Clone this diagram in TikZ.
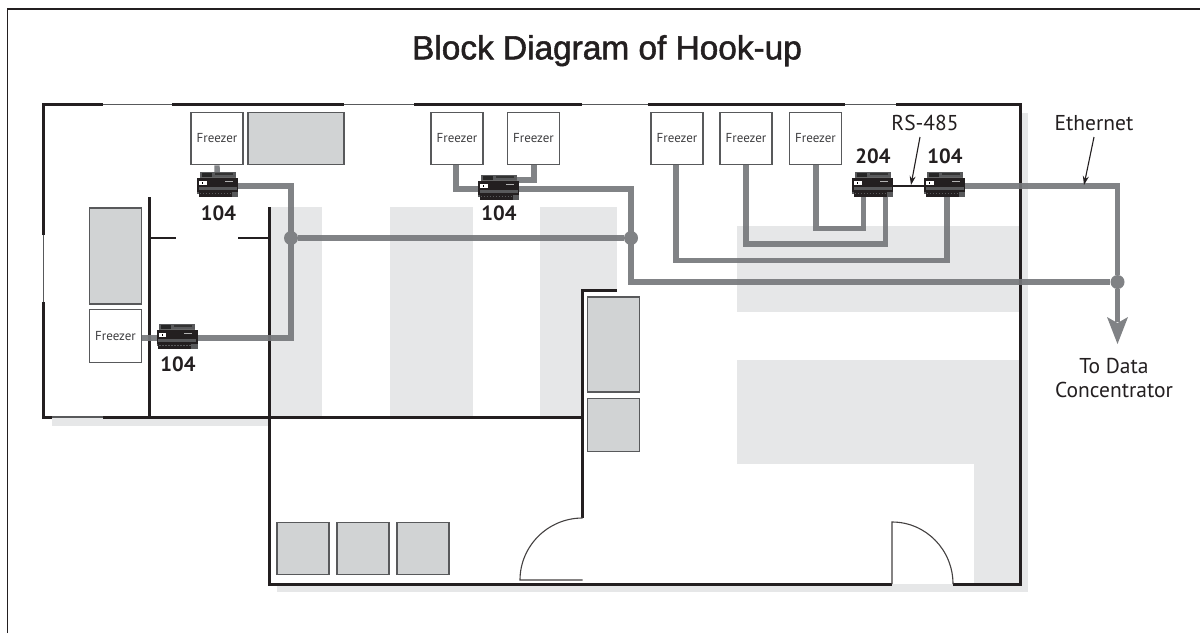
\documentclass[tikz,border=0pt]{standalone}
\usepackage{fontspec}
\setmainfont{PT Sans}
\newfontfamily\titlefont[FakeBold=1.6]{Liberation Sans}
\usetikzlibrary{arrows.meta}
\definecolor{wallc}{HTML}{231F20}
\definecolor{bandc}{HTML}{E6E7E8}
\definecolor{boxc}{HTML}{D1D3D4}
\definecolor{edgec}{HTML}{58595B}
\definecolor{cablec}{HTML}{77797C}
\definecolor{solidc}{HTML}{808285}
\pgfdeclarelayer{floor}
\pgfdeclarelayer{wires}
\pgfsetlayers{floor,wires,main}
\tikzset{
  x=1pt,y=-1pt,
  band/.style={fill=bandc,draw=none},
  wall/.style={draw=wallc,line width=3pt,line cap=butt,line join=miter},
  window/.style={draw=edgec,line width=1pt},
  doorline/.style={draw=wallc!85,line width=1.1pt},
  freezer/.style={draw=edgec,line width=1.3pt,fill=white,minimum width=52pt,minimum height=52.5pt,inner sep=0pt,font=\fontsize{13}{14}\selectfont,text=edgec!70!black},
  unit/.style={draw=edgec,line width=1.3pt,fill=boxc,inner sep=0pt},
  cable/.style={draw=cablec,opacity=.92,line width=5.4pt,line cap=butt,line join=miter},
  dot/.style={circle,fill=solidc,minimum size=14pt,inner sep=0pt},
  device/.style={minimum width=41pt,minimum height=22pt,inner sep=0pt},
  model/.style={font=\fontsize{20.6}{22}\selectfont\bfseries,text=wallc,inner sep=0pt,anchor=base},
  caption/.style={font=\fontsize{21.5}{24}\selectfont,text=wallc,inner sep=0pt,anchor=base},
  pointer/.style={draw=wallc,line width=1.1pt,-{Stealth[length=9pt,width=6pt]}},
  devicepic/.pic={
    \fill[edgec] (-18,-14) rectangle (18,-8);
    \fill[black!85] (-16,-13) rectangle (-6,-9);
    \fill[black!80] (-3,-13) rectangle (15,-11);
    \fill[black!60] (-18,-9) rectangle (18,-7);
    \fill[wallc] (-20.5,-8) rectangle (20.5,6);
    \fill[edgec] (-19,0.5) rectangle (19,3.5);
    \fill[white] (-18.5,-5) rectangle (-11,-1);
    \fill[black] (-15.5,-4) rectangle (-14.5,-2);
    \fill[white!70!black] (7,-5) rectangle (15,-4);
    \fill[wallc] (-19,5) rectangle (20,11);
    \draw[edgec,line width=1pt,dash pattern=on 1.5pt off 1.5pt] (-18,7.5) -- (14,7.5);
    \fill[edgec] (14,6) rectangle (20.5,11);
    \fill[edgec] (-20.5,6) rectangle (-19,8);
  }
}
\begin{document}
\begin{tikzpicture}
\useasboundingbox (0,0) rectangle (1200,633);

\begin{pgfonlayer}{floor}
  \fill[white] (0,0) rectangle (1200,633);
  % page frame
  \draw[draw=wallc,line width=1.5pt] (7.5,633) -- (7.5,9) -- (1200,9);
  % shadow and shaded zones
  \fill[band] (1020,113) rectangle (1028,592);
  \fill[band] (277,584) rectangle (1028,592);
  \fill[band] (52,417) rectangle (269,426);
  \fill[band] (269,207) rectangle (322,417);
  \fill[band] (390,207) rectangle (473,417);
  \fill[band] (540,207) rectangle (617,290);
  \fill[band] (540,290) rectangle (582,417);
  \fill[band] (737,226) rectangle (1020,312);
  \fill[band] (737,360) rectangle (1020,464);
  \fill[band] (974,464) rectangle (1020,584);
  % outer walls with windows
  \draw[window] (103,104.5) -- (172,104.5);
  \draw[window] (344,104.5) -- (414,104.5);
  \draw[window] (582,104.5) -- (648,104.5);
  \draw[window] (845,104.5) -- (896,104.5);
  \draw[window] (43.5,235) -- (43.5,302);
  \draw[window,line width=1.4pt] (52,417) -- (103,417);
  \draw[wall] (43.5,235) -- (43.5,104.5) -- (103,104.5);
  \draw[wall] (172,104.5) -- (344,104.5);
  \draw[wall] (414,104.5) -- (582,104.5);
  \draw[wall] (648,104.5) -- (845,104.5);
  \draw[wall] (896,104.5) -- (1020,104.5) -- (1020,584) -- (953,584);
  \draw[wall] (43.5,302) -- (43.5,417) -- (52,417);
  \draw[wall] (103,417) -- (583,417);
  % inner walls
  \draw[wall] (149,197) -- (149,417);
  \draw[wall,line width=2.2pt] (149,238) -- (176,238);
  \draw[wall,line width=2.2pt] (238,238) -- (269,238);
  \draw[wall] (269,207) -- (269,584) -- (892,584);
  \draw[wall] (617,290.5) -- (582.5,290.5) -- (582.5,518);
  % doors
  \draw[doorline] (582.5,518) .. controls (548,518) and (520,546) .. (520,580) -- (582.5,580);
  \draw[doorline] (953,584) .. controls (953,550) and (926,522) .. (892,522) -- (892,584);
\end{pgfonlayer}

% equipment without connections
\node[unit,minimum width=96pt,minimum height=52.5pt] (g1) at (296,138.5) {};
\node[unit,minimum width=52.5pt,minimum height=96pt] (g2) at (115.5,256) {};
\node[unit,minimum width=52.5pt,minimum height=95pt] (g3) at (613.5,344.5) {};
\node[unit,minimum width=52.5pt,minimum height=53pt] (g4) at (613.5,425) {};
\node[unit,minimum width=52pt,minimum height=52.5pt] (g5) at (303,548.5) {};
\node[unit,minimum width=52pt,minimum height=52.5pt] (g6) at (363,548.5) {};
\node[unit,minimum width=52pt,minimum height=52.5pt] (g7) at (423,548.5) {};

% freezers
\node[freezer] (fa) at (217,138.5) {Freezer};
\node[freezer] (fb) at (115.5,336) {Freezer};
\node[freezer] (fc) at (457,138.5) {Freezer};
\node[freezer] (fd) at (533.5,138.5) {Freezer};
\node[freezer] (fe) at (677,138.5) {Freezer};
\node[freezer] (ff) at (746,138.5) {Freezer};
\node[freezer] (fg) at (815.5,138.5) {Freezer};

% controllers
\node[device] (da) at (217.5,186) {};
\node[device] (db) at (177,338) {};
\node[device] (dc) at (498.5,189) {};
\node[device] (dd) at (872.5,186) {};
\node[device] (de) at (944.5,186) {};
\foreach \d in {da,db,dc,dd,de} \pic at (\d) {devicepic};

% junctions
\node[dot] (ja) at (291,238) {};
\node[dot] (jb) at (631,238) {};
\node[dot] (jc) at (1117.5,282) {};

% routing points
\coordinate (a1) at (291,186);
\coordinate (b1) at (291,338);
\coordinate (c0) at (456,165);
\coordinate (c1) at (534,165);
\coordinate (c2) at (534,180);
\coordinate (c3) at (631,189);
\coordinate (c4) at (631,282);
\coordinate (e1) at (1117.5,186);
\coordinate (dd1) at (863.5,197);
\coordinate (dd2) at (885.5,197);
\coordinate (de1) at (947,197);
\coordinate (fgb) at (816,165);
\coordinate (ffb) at (746,165);
\coordinate (feb) at (676,165);
\coordinate (t1) at (1117.5,344);
\coordinate (rsa) at (920,137);
\coordinate (rsb) at (911,185);
\coordinate (eta) at (1094,137);
\coordinate (etb) at (1084,185);

\begin{pgfonlayer}{wires}
  \draw[cable] (fa.south) -- (da.center);
  \draw[cable] (da.center) -- (a1) -- (b1) -- (fb.east |- b1);
  \draw[cable] (ja) -- (jb);
  \draw[cable] (c0) |- (dc.center);
  \draw[cable] (c1) -- (c2) -| (dc.center);
  \draw[cable] (dc.center) -- (c3) -- (c4) -- (jc);
  \draw[cable] (de.center) -- (e1) -- (jc);
  \draw[cable] (feb) |- (676,260.5) -| (de1);
  \draw[cable] (ffb) |- (746,244) -| (dd2);
  \draw[cable] (fgb) |- (816,228.5) -| (dd1);
  \draw[wallc,line width=2pt] (dd.center) -- (de.center);
\end{pgfonlayer}

% arrow to the concentrator
\coordinate (t0) at (1117.5,322);
\draw[solidc,line width=5.4pt] (jc) -- (t0);
\fill[solidc] (t1) -- (1107,317) -- (1117.5,323) -- (1128,317) -- cycle;

% texts
\node[font=\fontsize{33.4}{36}\titlefont,text=wallc,inner sep=0pt,anchor=base] (title) at (607,59.3) {Block Diagram of Hook-up};
\node[model] (la) at (218.5,220) {104};
\node[model] (lb) at (178,371) {104};
\node[model] (lc) at (499,220) {104};
\node[model] (ld) at (873,163) {204};
\node[model] (le) at (945,163) {104};
\node[caption] (rs) at (925,130) {RS-485};
\node[caption] (eth) at (1094,130) {Ethernet};
\node[caption] (dc1) at (1114,373) {To Data};
\node[caption] (dc2) at (1114,397) {Concentrator};
\draw[pointer] (rsa) -- (rsb);
\draw[pointer] (eta) -- (etb);
\end{tikzpicture}
\end{document}
